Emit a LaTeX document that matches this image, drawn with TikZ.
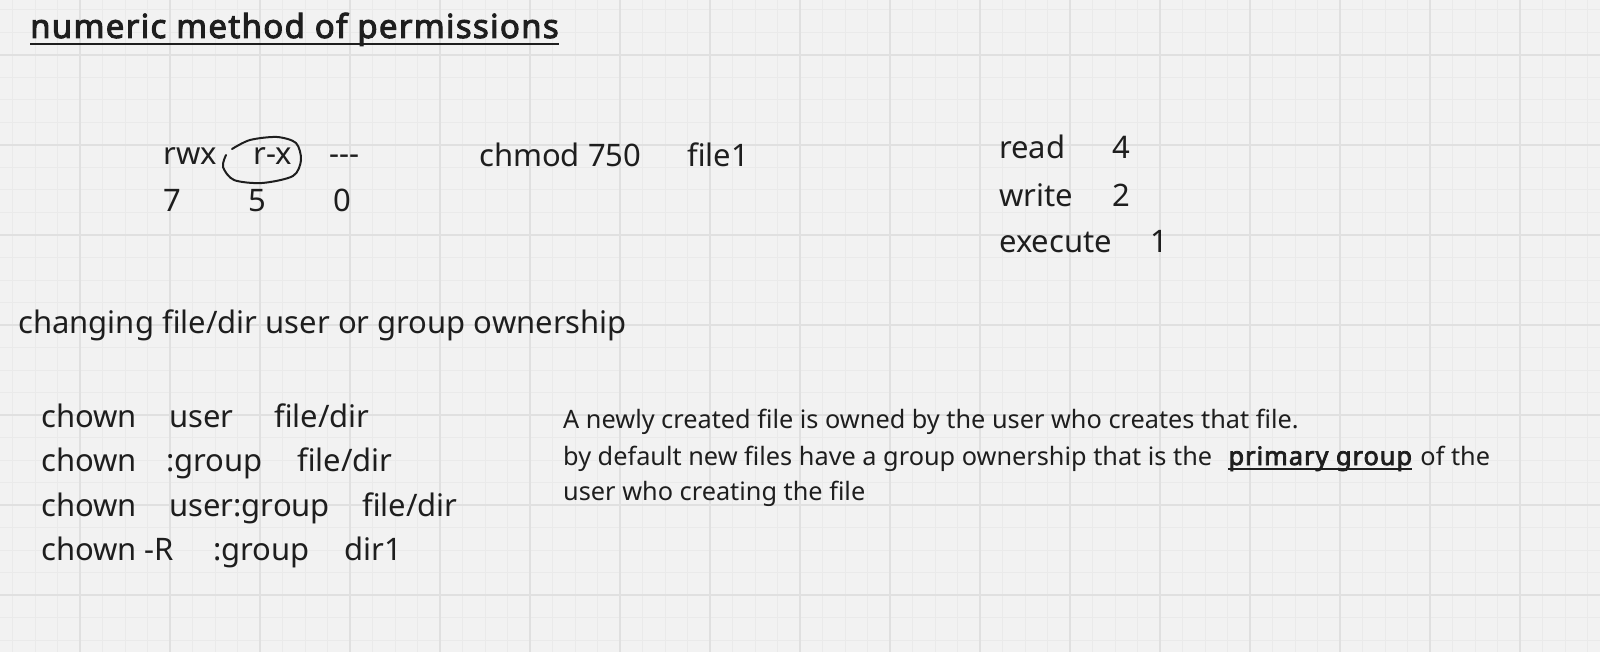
\documentclass[tikz,border=0pt]{standalone}
\usepackage{fontspec}
\setmainfont{Noto Sans}[AutoFakeBold=3]
\usepackage{tikz}
\usetikzlibrary{positioning}

\definecolor{ink}{HTML}{1E1E1E}
\definecolor{paper}{HTML}{F2F2F2}
\definecolor{gridminor}{HTML}{EAEAEA}
\definecolor{gridmajor}{HTML}{E0E0E0}

\newcommand{\bigtext}{\fontsize{31}{37}\selectfont}
\newcommand{\smalltext}{\fontsize{25.3}{30}\selectfont}

\tikzset{
    word/.style={anchor=base west, inner sep=0pt, text=ink, font=\bigtext},
    note/.style={word, font=\smalltext},
    minorline/.style={gridminor, line width=1pt},
    majorline/.style={gridmajor, line width=1.2pt},
    rule/.style={ink, line width=2.5pt}
}

\begin{document}
\begin{tikzpicture}[x=1pt, y=-1pt]

    \useasboundingbox (0,0) rectangle (1600,652);
    \fill[paper] (0,0) rectangle (1600,652);

    % grid
    \foreach \x in {12.5,35,...,1600} \draw[minorline] (\x,0) -- (\x,652);
    \foreach \y in {10,32.5,...,652} \draw[minorline] (0,\y) -- (1600,\y);
    \foreach \x in {80,170,...,1600} \draw[majorline] (\x,0) -- (\x,652);
    \foreach \y in {55,145,...,652} \draw[majorline] (0,\y) -- (1600,\y);

    % title
    \node[word, font=\fontsize{33}{39}\selectfont\bfseries\addfontfeature{LetterSpace=4}] (title) at (30,38) {numeric method of permissions};
    \draw[rule] ([yshift=-6pt]title.base west) -- ([yshift=-6pt]title.base east);

    % rwx block
    \node[word] (rwx) at (163,165) {rwx};
    \node[word] (rx) at (253,165) {r-x};
    \node[word] (none) at (329,165) {-{}-{}-};
    \node[word] (seven) at (163,212) {7};
    \node[word] (five) at (248,212) {5};
    \node[word] (zero) at (333,212) {0};
    \draw[ink, line width=2pt, line cap=round] plot[smooth] coordinates
        {(232,149) (250,140) (277,137) (296,143) (301,160) (293,176) (262,183) (234,180) (223,167) (226,155)};

    \node[word] (chmod) at (479,167) {chmod 750};
    \node[word] (file) at (687,167) {file1};

    % values
    \node[word] (read) at (999,159) {read};
    \node[word] (four) at (1112,159) {4};
    \node[word] (write) at (999,207) {write};
    \node[word] (two) at (1112,207) {2};
    \node[word] (execute) at (999,253) {execute};
    \node[word] (one) at (1150,253) {1};

    % ownership
    \node[word] (changing) at (18,333) {changing file/dir user or group ownership};

    \node[word] (chowna) at (41,427) {chown};
    \node[word] (usera) at (169,427) {user};
    \node[word] (patha) at (274,427) {file/dir};
    \node[word] (chownb) at (41,471.5) {chown};
    \node[word] (groupb) at (166,471.5) {:group};
    \node[word] (pathb) at (297,471.5) {file/dir};
    \node[word] (chownc) at (41,516) {chown};
    \node[word] (userc) at (169,516) {user:group};
    \node[word] (pathc) at (362,516) {file/dir};
    \node[word] (chownd) at (41,560) {chown -R};
    \node[word] (groupd) at (213,560) {:group};
    \node[word] (dird) at (344,560) {dir1};

    % notes
    \node[note] (linea) at (563,428) {A newly created file is owned by the user who creates that file.};
    \node[note] (lineb) at (563,465) {by default new files have a group ownership that is the};
    \node[note, font=\smalltext\bfseries\addfontfeature{LetterSpace=4}, base right=16pt of lineb] (primary) {primary group};
    \node[note, base right=8pt of primary] (linebend) {of the};
    \draw[ink, line width=2pt] ([yshift=-4pt]primary.base west) -- ([yshift=-4pt]primary.base east);
    \node[note] (linec) at (563,500) {user who creating the file};

\end{tikzpicture}
\end{document}
